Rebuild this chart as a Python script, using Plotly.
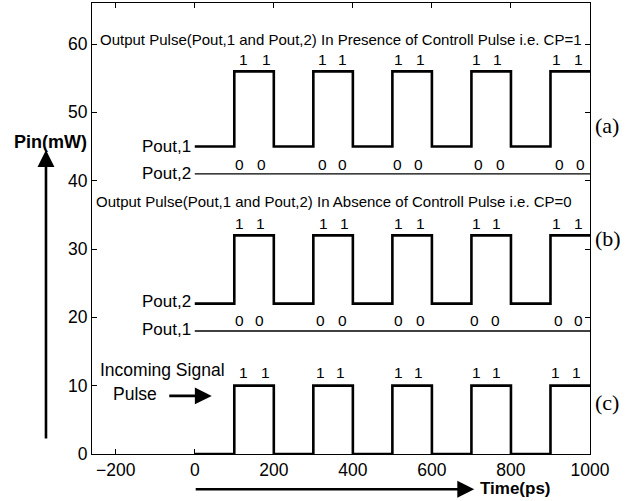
import plotly.graph_objects as go

# ---- data ----
time_ps = [0, 100, 200, 300, 400, 500, 600, 700, 800, 900, 1000]
pout1_cp1 = [45, 56, 45, 56, 45, 56, 45, 56, 45, 56, 56]
pout2_cp1 = [41, 41, 41, 41, 41, 41, 41, 41, 41, 41, 41]
pout2_cp0 = [22, 32, 22, 32, 22, 32, 22, 32, 22, 32, 32]
pout1_cp0 = [18, 18, 18, 18, 18, 18, 18, 18, 18, 18, 18]
incoming = [0, 10, 0, 10, 0, 10, 0, 10, 0, 10, 10]

x_ticks = [-200, 0, 200, 400, 600, 800, 1000]
y_ticks = [0, 10, 20, 30, 40, 50, 60]

# bit labels (x positions in ps, y in mW, text)
ones_a_x = [124, 182, 324, 375, 515, 571, 714, 767, 916, 970]
ones_a_y = 57.8
zeros_a_x = [114, 168, 324, 374, 512, 566, 718, 773, 922, 975]
zeros_a_y = 42.4
ones_b_x = [112, 167, 326, 379, 516, 571, 712, 764, 916, 970]
ones_b_y = 33.8
zeros_b_x = [112, 165, 318, 373, 516, 571, 708, 762, 920, 970]
zeros_b_y = 19.6
ones_c_x = [124, 179, 318, 369, 516, 566, 712, 763, 912, 966]
ones_c_y = 11.9

FONT = "Liberation Sans, Arial, sans-serif"

fig = go.Figure()

def step(y, w):
    fig.add_trace(go.Scatter(x=time_ps, y=y, mode="lines", line_shape="hv",
                             line=dict(color="black", width=w),
                             showlegend=False, hoverinfo="skip"))

step(pout1_cp1, 2.6)
step(pout2_cp1, 1.3)
step(pout2_cp0, 2.6)
step(pout1_cp0, 1.3)
step(incoming, 2.6)

ann = []

def txt(x, y, s, size=16, xanchor="center", xref="x", yref="y", family=FONT, bold=False):
    if bold:
        s = "<b>" + s + "</b>"
    ann.append(dict(x=x, y=y, xref=xref, yref=yref, text=s, showarrow=False,
                    xanchor=xanchor, yanchor="middle",
                    font=dict(family=family, size=size, color="black")))

for xs, yv, t in [(ones_a_x, ones_a_y, "1"), (zeros_a_x, zeros_a_y, "0"),
                  (ones_b_x, ones_b_y, "1"), (zeros_b_x, zeros_b_y, "0"),
                  (ones_c_x, ones_c_y, "1")]:
    for xv in xs:
        txt(xv, yv, t, size=15.5)

txt(-245, 60.6, "Output Pulse(Pout,1 and Pout,2) In Presence of Controll Pulse i.e. CP=1",
    size=15, xanchor="left")
txt(-255, 37.0, "Output Pulse(Pout,1 and Pout,2) In Absence of Controll Pulse i.e. CP=0",
    size=15, xanchor="left")

txt(-4, 45.0, "Pout,1", size=17, xanchor="right")
txt(-4, 41.1, "Pout,2", size=17, xanchor="right")
txt(-4, 22.3, "Pout,2", size=17, xanchor="right")
txt(-4, 18.2, "Pout,1", size=17, xanchor="right")

txt(-245, 12.3, "Incoming Signal", size=17.5, xanchor="left")
txt(-212, 8.8, "Pulse", size=17.5, xanchor="left")

txt(1.006, 0.729, "(a)", size=22, xanchor="left", xref="paper", yref="paper",
    family="Liberation Serif, Times New Roman, serif")
txt(1.006, 0.478, "(b)", size=22, xanchor="left", xref="paper", yref="paper",
    family="Liberation Serif, Times New Roman, serif")
txt(1.006, 0.115, "(c)", size=22, xanchor="left", xref="paper", yref="paper",
    family="Liberation Serif, Times New Roman, serif")

txt(-0.006, 0.692, "Pin(mW)", size=18, xanchor="right", xref="paper", yref="paper", bold=True)
txt(717, -0.076, "Time(ps)", size=17, xanchor="left", yref="paper", bold=True)

# arrows
ann.append(dict(x=-0.0924, y=0.674, xref="paper", yref="paper", ax=0, ay=290,
                axref="pixel", ayref="pixel", showarrow=True, arrowhead=2,
                arrowsize=1.3, arrowwidth=2.6, arrowcolor="black", standoff=0, text=""))
ann.append(dict(x=707, y=-0.078, xref="x", yref="paper", ax=-280, ay=0,
                showarrow=True, arrowhead=2, arrowsize=1.3, arrowwidth=2.6,
                arrowcolor="black", standoff=0, text=""))
ann.append(dict(x=43, y=8.5, xref="x", yref="y", ax=-44, ay=0,
                showarrow=True, arrowhead=2, arrowsize=1.3, arrowwidth=2.6,
                arrowcolor="black", standoff=0, text=""))

fig.update_layout(
    width=637, height=501, autosize=False,
    margin=dict(l=92, r=47, t=3, b=47, pad=0, autoexpand=False),
    paper_bgcolor="white", plot_bgcolor="white",
    annotations=ann,
    font=dict(family=FONT, size=17.5, color="black"),
)
fig.update_xaxes(range=[-260, 1000], tickvals=x_ticks, ticks="inside", ticklen=5,
                 tickcolor="black", showline=True, linecolor="black", linewidth=1,
                 mirror="ticks", showgrid=False, zeroline=False,
                 tickfont=dict(family=FONT, size=17.5, color="black"))
fig.update_yaxes(range=[0, 66], tickvals=y_ticks, ticks="inside", ticklen=5,
                 tickcolor="black", showline=True, linecolor="black", linewidth=1,
                 mirror="ticks", showgrid=False, zeroline=False,
                 tickfont=dict(family=FONT, size=17.5, color="black"))

fig.write_html("out.html", config={"displayModeBar": False},
               post_script="document.body.style.margin='0';document.body.style.overflow='hidden';")
